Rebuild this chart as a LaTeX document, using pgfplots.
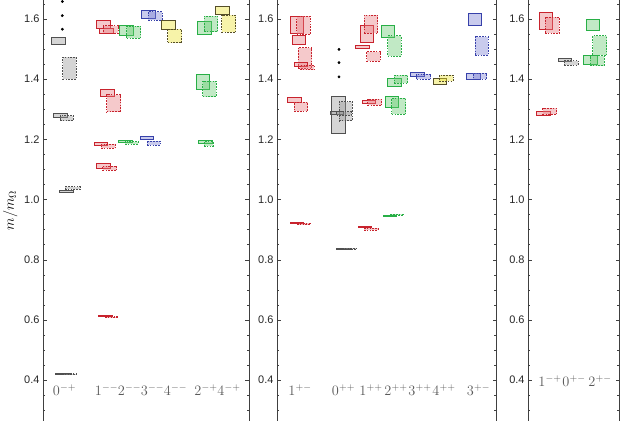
\documentclass[border=0pt]{standalone}
\usepackage{fontspec}
\newfontfamily\tickfont{Liberation Sans}
\usepackage{pgfplots}
\pgfplotsset{compat=1.18}

\definecolor{Rl}{RGB}{200,35,45}   \definecolor{Rf}{RGB}{230,120,125}
\definecolor{Gl}{RGB}{40,175,70}   \definecolor{Gf}{RGB}{100,200,110}
\definecolor{Bl}{RGB}{55,65,170}   \definecolor{Bf}{RGB}{120,125,210}
\definecolor{Yl}{RGB}{85,78,40}    \definecolor{Yf}{RGB}{235,225,40}
\definecolor{Kl}{RGB}{80,80,80}    \definecolor{Kf}{RGB}{150,150,150}

\tikzset{
  S/.style={line width=0.9bp, draw=#1l, fill=#1f, fill opacity=.4},
  D/.style={line width=0.75bp, dash pattern=on 1.6bp off 1.2bp, draw=#1l, fill=#1f, fill opacity=.4},
  lbl/.style={anchor=base, text=black!65, font=\fontsize{14}{16}\selectfont},
}
% one box: style, x left, x right, y low, y high
\newcommand\bx[5]{\addplot[#1] coordinates {(#2,#4) (#3,#4) (#3,#5) (#2,#5)} -- cycle;}

\pgfplotsset{panel/.style={
  scale only axis, height=421bp, anchor=south west,
  ymin=0.2645, ymax=1.6631,
  axis x line=none, axis y line=box, xtick=\empty,
  ytick={0.4,0.6,0.8,1.0,1.2,1.4,1.6},
  minor ytick={0.3,0.35,0.45,0.5,0.55,0.65,0.7,0.75,0.85,0.9,0.95,1.05,1.1,1.15,1.25,1.3,1.35,1.45,1.5,1.55,1.65},
  tick align=inside, major tick length=3.5bp, minor tick length=2.2bp,
  /pgf/number format/assume math mode=true,
  yticklabel style={font=\tickfont\fontsize{11}{13}\selectfont, text=black!85,
    /pgf/number format/fixed, /pgf/number format/fixed zerofill, /pgf/number format/precision=1},
  axis line style={line width=1bp, black!75},
  every tick/.style={black!75, line width=0.6bp},
}}

\begin{document}
\begin{tikzpicture}[x=1bp,y=1bp]
% ---- panel 1 ----
\begin{axis}[panel, at={(43bp,0bp)}, width=206bp, xmin=43, xmax=249,
  ylabel={$m/m_\Omega$}, ylabel style={font=\fontsize{14}{16}\selectfont}]
\bx{S=K}{51.7}{65}{1.516}{1.539}
\bx{D=K}{62.7}{76}{1.400}{1.473}
\bx{S=K}{53}{67}{1.273}{1.287}
\bx{D=K}{60}{73}{1.262}{1.279}
\bx{S=K}{59}{73}{1.023}{1.032}
\bx{D=K}{65}{80}{1.034}{1.043}
\bx{S=K}{55}{70}{0.419}{0.423}
\bx{D=K}{62}{76}{0.418}{0.422}
\addplot[only marks, mark=*, mark size=1.2bp, black] coordinates {(62.3,1.566) (62.3,1.611) (62.3,1.658)};
\bx{S=R}{96}{110}{1.569}{1.594}
\bx{S=R}{99}{113}{1.553}{1.570}
\bx{D=R}{103}{118}{1.553}{1.578}
\bx{S=R}{100.7}{114.3}{1.342}{1.366}
\bx{D=R}{106.7}{120.7}{1.292}{1.348}
\bx{S=R}{94}{107}{1.180}{1.190}
\bx{D=R}{101}{115}{1.170}{1.184}
\bx{S=R}{96}{110}{1.104}{1.120}
\bx{D=R}{102.7}{116.7}{1.097}{1.112}
\bx{S=R}{98}{112}{0.611}{0.614}
\bx{D=R}{105}{118}{0.608}{0.611}
\bx{S=G}{119}{133}{1.546}{1.580}
\bx{D=G}{126.7}{140.7}{1.536}{1.577}
\bx{S=G}{118}{132}{1.189}{1.198}
\bx{D=G}{125}{138}{1.184}{1.192}
\bx{S=B}{141.7}{155.7}{1.602}{1.627}
\bx{D=B}{148}{162}{1.597}{1.624}
\bx{S=B}{140}{153}{1.200}{1.211}
\bx{D=B}{147}{160}{1.181}{1.195}
\bx{S=Y}{161.7}{175}{1.566}{1.594}
\bx{D=Y}{167.7}{181.7}{1.521}{1.566}
\bx{S=G}{197.7}{211.7}{1.550}{1.591}
\bx{D=G}{204}{217.7}{1.558}{1.610}
\bx{S=G}{196}{209}{1.366}{1.417}
\bx{D=G}{202.7}{216}{1.342}{1.394}
\bx{S=G}{198}{212}{1.187}{1.196}
\bx{D=G}{204}{213}{1.178}{1.192}
\bx{S=Y}{215}{229}{1.616}{1.643}
\bx{D=Y}{221.7}{235.7}{1.556}{1.613}
\node[lbl] at (axis cs:64.5,0.349) {$0^{-+}$};
\node[lbl] at (axis cs:106.5,0.349) {$1^{--}$};
\node[lbl] at (axis cs:129.5,0.349) {$2^{--}$};
\node[lbl] at (axis cs:152.5,0.349) {$3^{--}$};
\node[lbl] at (axis cs:175.5,0.349) {$4^{--}$};
\node[lbl] at (axis cs:206,0.349) {$2^{-+}$};
\node[lbl] at (axis cs:229,0.349) {$4^{-+}$};
\end{axis}
% ---- panel 2 ----
\begin{axis}[panel, at={(277bp,0bp)}, width=219bp, xmin=277, xmax=496]
\bx{S=R}{290}{303.3}{1.552}{1.610}
\bx{D=R}{296.7}{310}{1.549}{1.610}
\bx{S=R}{292.3}{305.7}{1.516}{1.544}
\bx{D=R}{298.3}{311.7}{1.436}{1.505}
\bx{S=R}{294.3}{307.7}{1.442}{1.455}
\bx{D=R}{300}{314.3}{1.431}{1.446}
\bx{S=R}{287.7}{301}{1.323}{1.339}
\bx{D=R}{294.3}{307.7}{1.294}{1.323}
\bx{S=R}{290}{303}{0.920}{0.924}
\bx{D=R}{297}{310}{0.917}{0.921}
\addplot[only marks, mark=*, mark size=1.2bp, black] coordinates {(339,1.408) (339,1.455) (339,1.499)};
\bx{S=K}{331}{345.7}{1.220}{1.342}
\bx{D=K}{339}{352.3}{1.262}{1.325}
\bx{S=K}{330}{343.3}{1.283}{1.294}
\bx{D=K}{336.7}{351}{1.281}{1.292}
\bx{S=K}{336.7}{350}{0.833}{0.837}
\bx{D=K}{343}{356.7}{0.835}{0.839}
\bx{S=R}{360}{373.3}{1.521}{1.580}
\bx{D=R}{364.3}{377.7}{1.552}{1.613}
\bx{S=R}{355.7}{369}{1.503}{1.511}
\bx{D=R}{366.7}{380}{1.460}{1.491}
\bx{S=R}{362.3}{375.7}{1.318}{1.331}
\bx{D=R}{367.7}{381.7}{1.313}{1.333}
\bx{S=R}{358}{371}{0.906}{0.910}
\bx{D=R}{364}{378}{0.899}{0.904}
\bx{S=G}{381.7}{394.3}{1.539}{1.580}
\bx{D=G}{387.7}{401}{1.477}{1.544}
\bx{S=G}{387.7}{401}{1.377}{1.401}
\bx{D=G}{394.3}{407.7}{1.386}{1.413}
\bx{S=G}{385}{398.3}{1.307}{1.342}
\bx{D=G}{391.7}{405.7}{1.283}{1.336}
\bx{S=G}{383}{396}{0.945}{0.949}
\bx{D=G}{390}{403}{0.948}{0.952}
\bx{S=B}{410.7}{424}{1.408}{1.423}
\bx{D=B}{416.7}{430.7}{1.399}{1.417}
\bx{S=Y}{433.3}{446.7}{1.383}{1.401}
\bx{D=Y}{439.3}{453.3}{1.394}{1.413}
\bx{S=B}{468.3}{481.7}{1.577}{1.619}
\bx{D=B}{475}{488.3}{1.480}{1.541}
\bx{S=B}{466.7}{480}{1.400}{1.418}
\bx{D=B}{473.3}{486.7}{1.400}{1.420}
\node[lbl] at (axis cs:300,0.349) {$1^{+-}$};
\node[lbl] at (axis cs:343.5,0.349) {$0^{++}$};
\node[lbl] at (axis cs:371,0.349) {$1^{++}$};
\node[lbl] at (axis cs:396,0.349) {$2^{++}$};
\node[lbl] at (axis cs:420,0.349) {$3^{++}$};
\node[lbl] at (axis cs:444,0.349) {$4^{++}$};
\node[lbl] at (axis cs:478.5,0.349) {$3^{+-}$};
\end{axis}
% ---- panel 3 ----
\begin{axis}[panel, at={(528bp,0bp)}, width=91bp, xmin=528, xmax=619]
\bx{S=R}{539.3}{552.7}{1.566}{1.621}
\bx{D=R}{545}{559.3}{1.552}{1.606}
\bx{S=R}{536.7}{550}{1.278}{1.292}
\bx{D=R}{542.7}{556.7}{1.283}{1.303}
\bx{S=K}{558.3}{571.7}{1.458}{1.469}
\bx{D=K}{564.3}{578.3}{1.447}{1.462}
\bx{S=G}{586}{599.3}{1.561}{1.597}
\bx{D=G}{592.7}{606.7}{1.480}{1.544}
\bx{S=G}{583.3}{597.3}{1.450}{1.480}
\bx{D=G}{590}{604}{1.445}{1.478}
\node[lbl] at (axis cs:550,0.378) {$1^{-+}$};
\node[lbl] at (axis cs:574,0.378) {$0^{+-}$};
\node[lbl] at (axis cs:600,0.378) {$2^{+-}$};
\end{axis}
\pgfresetboundingbox
\path[use as bounding box] (0bp,0bp) rectangle (623bp,421bp);
\end{tikzpicture}
\end{document}
